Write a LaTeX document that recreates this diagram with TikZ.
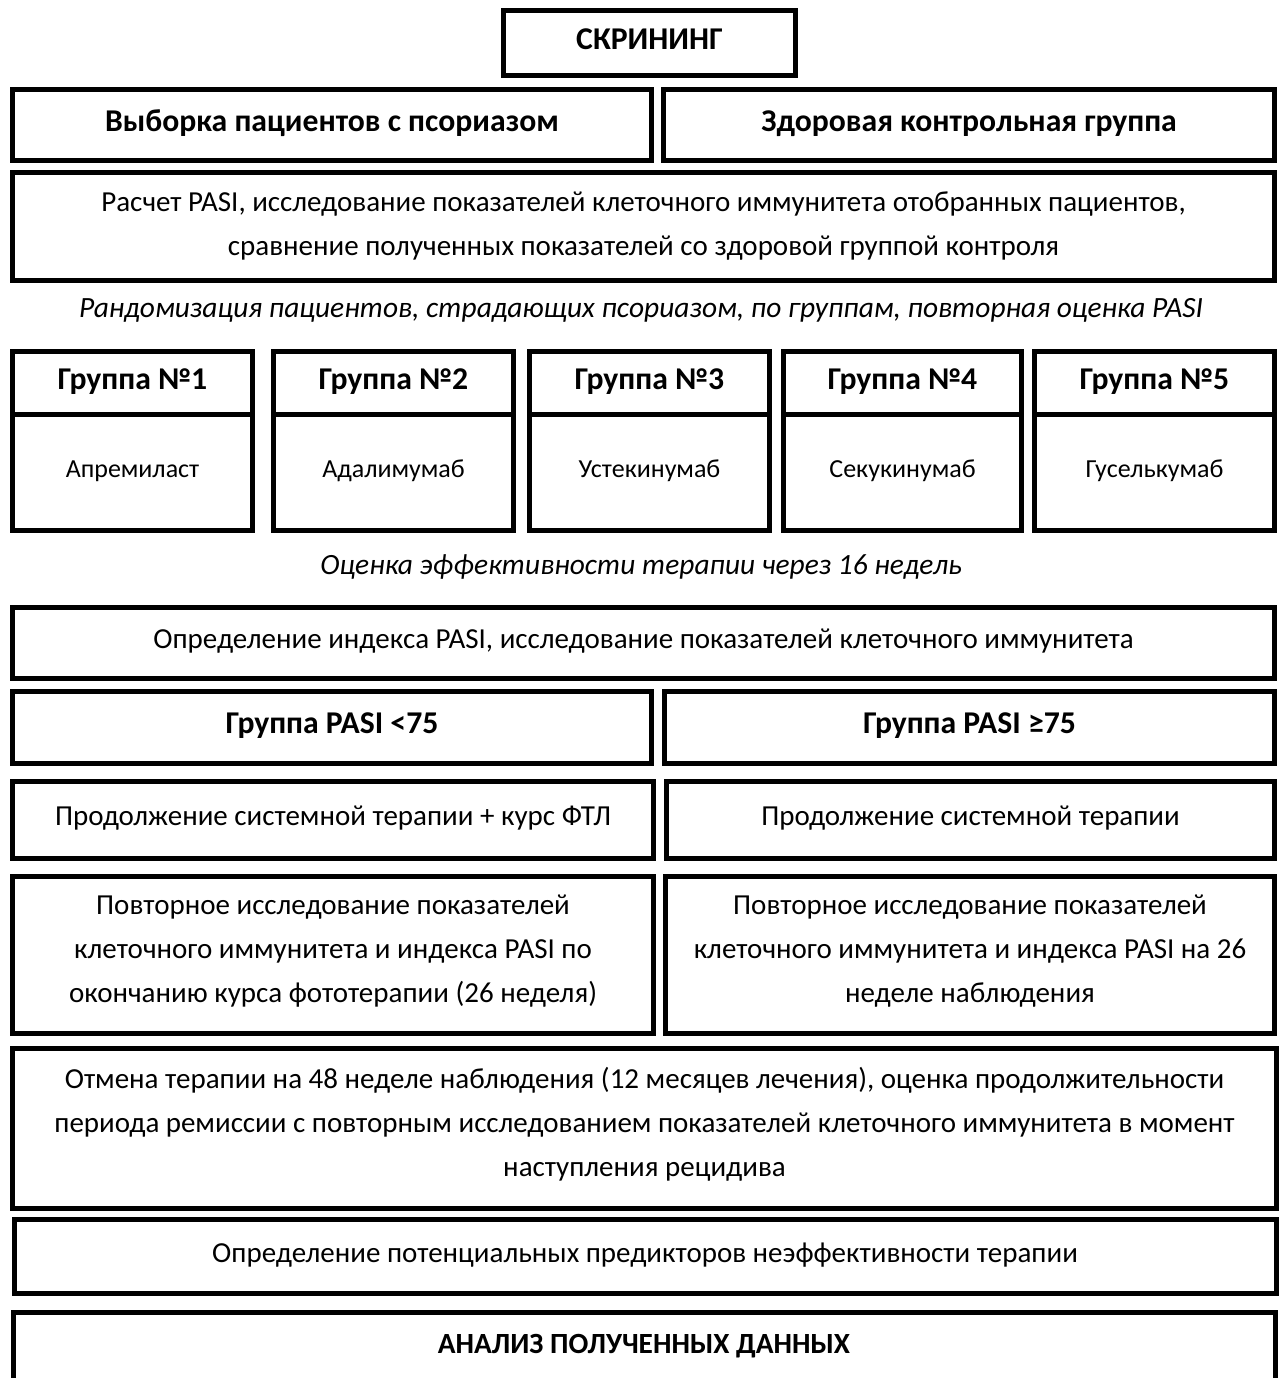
\documentclass[tikz,border=0pt]{standalone}
\usepackage{fontspec}
\setmainfont{Carlito}
\newcommand{\lw}{5pt}
\newcommand{\fw}{1262pt}

\begin{document}
\begin{tikzpicture}[x=1pt, y=-1pt,
    plain/.style={draw, rectangle, anchor=north west, line width=\lw, inner sep=0pt, align=center, font=\fontsize{29}{44}\selectfont},
    box/.style={plain, execute at begin node={\rule[-0.45em]{0pt}{1.3em}}},
    bbox/.style={box, font=\bfseries\fontsize{31.7}{44}\selectfont},
    drug/.style={box, font=\fontsize{26}{32}\selectfont},
    note/.style={inner sep=0pt, font=\itshape\fontsize{29.4}{44}\selectfont}]
    \useasboundingbox (0,0) rectangle (1280,1378);

    % Screening
    \node[bbox, minimum width=292pt, minimum height=65pt] (box-screen) at (501,8) {СКРИНИНГ};
    \node[bbox, minimum width=639pt, minimum height=71pt] (box-1-1) at (10,87) {Выборка пациентов с псориазом};
    \node[bbox, minimum width=611pt, minimum height=71pt] (box-1-2) at (661,87) {Здоровая контрольная группа};
    \node[plain, minimum width=\fw, minimum height=108pt] (box-2) at (10,170) {Расчет PASI, исследование показателей клеточного иммунитета отобранных пациентов,\\сравнение полученных показателей со здоровой группой контроля};

    \node[note] (note-rand) at (641,310) {Рандомизация пациентов, страдающих псориазом, по группам, повторная оценка PASI};

    % Groups
    \node[bbox, minimum width=240pt, minimum height=63pt] (grp-1) at (10,349) {Группа №1};
    \node[drug, minimum width=240pt, minimum height=116pt] (drug-1) at (10,412) {Апремиласт};
    \node[bbox, minimum width=240pt, minimum height=63pt] (grp-2) at (271,349) {Группа №2};
    \node[drug, minimum width=240pt, minimum height=116pt] (drug-2) at (271,412) {Адалимумаб};
    \node[bbox, minimum width=240pt, minimum height=63pt] (grp-3) at (527,349) {Группа №3};
    \node[drug, minimum width=240pt, minimum height=116pt] (drug-3) at (527,412) {Устекинумаб};
    \node[bbox, minimum width=238pt, minimum height=63pt] (grp-4) at (781,349) {Группа №4};
    \node[drug, minimum width=238pt, minimum height=116pt] (drug-4) at (781,412) {Секукинумаб};
    \node[bbox, minimum width=240pt, minimum height=63pt] (grp-5) at (1032,349) {Группа №5};
    \node[drug, minimum width=240pt, minimum height=116pt] (drug-5) at (1032,412) {Гуселькумаб};

    \node[note] (note-eval) at (641,567) {Оценка эффективности терапии через 16 недель};

    % After 16 weeks
    \node[box, minimum width=\fw, minimum height=71pt] (box-3) at (10,605) {Определение индекса PASI, исследование показателей клеточного иммунитета};
    \node[bbox, minimum width=639pt, minimum height=72pt] (box-4-1) at (10,689) {Группа PASI <75};
    \node[bbox, minimum width=610pt, minimum height=72pt] (box-4-2) at (662,689) {Группа PASI ≥75};
    \node[box, minimum width=641pt, minimum height=77pt] (box-5-1) at (10,779) {Продолжение системной терапии + курс ФТЛ};
    \node[box, minimum width=608pt, minimum height=77pt] (box-5-2) at (664,779) {Продолжение системной терапии};
    \node[box, minimum width=641pt, minimum height=157pt] (box-6-1) at (10,874) {Повторное исследование показателей\\клеточного иммунитета и индекса PASI по\\окончанию курса фототерапии (26 неделя)};
    \node[box, minimum width=609pt, minimum height=157pt] (box-6-2) at (663,874) {Повторное исследование показателей\\клеточного иммунитета и индекса PASI на 26\\неделе наблюдения};

    % End of study
    \node[box, minimum width=1264pt, minimum height=160pt] (box-7) at (10,1046) {Отмена терапии на 48 неделе наблюдения (12 месяцев лечения), оценка продолжительности\\периода ремиссии с повторным исследованием показателей клеточного иммунитета в момент\\наступления рецидива};
    \node[box, minimum width=\fw, minimum height=74pt] (box-8) at (11.5,1217) {Определение потенциальных предикторов неэффективности терапии};
    \node[bbox, font=\bfseries\fontsize{29.3}{44}\selectfont, minimum width=\fw, minimum height=70pt] (box-9) at (10.5,1310) {АНАЛИЗ ПОЛУЧЕННЫХ ДАННЫХ};

\end{tikzpicture}
\end{document}
